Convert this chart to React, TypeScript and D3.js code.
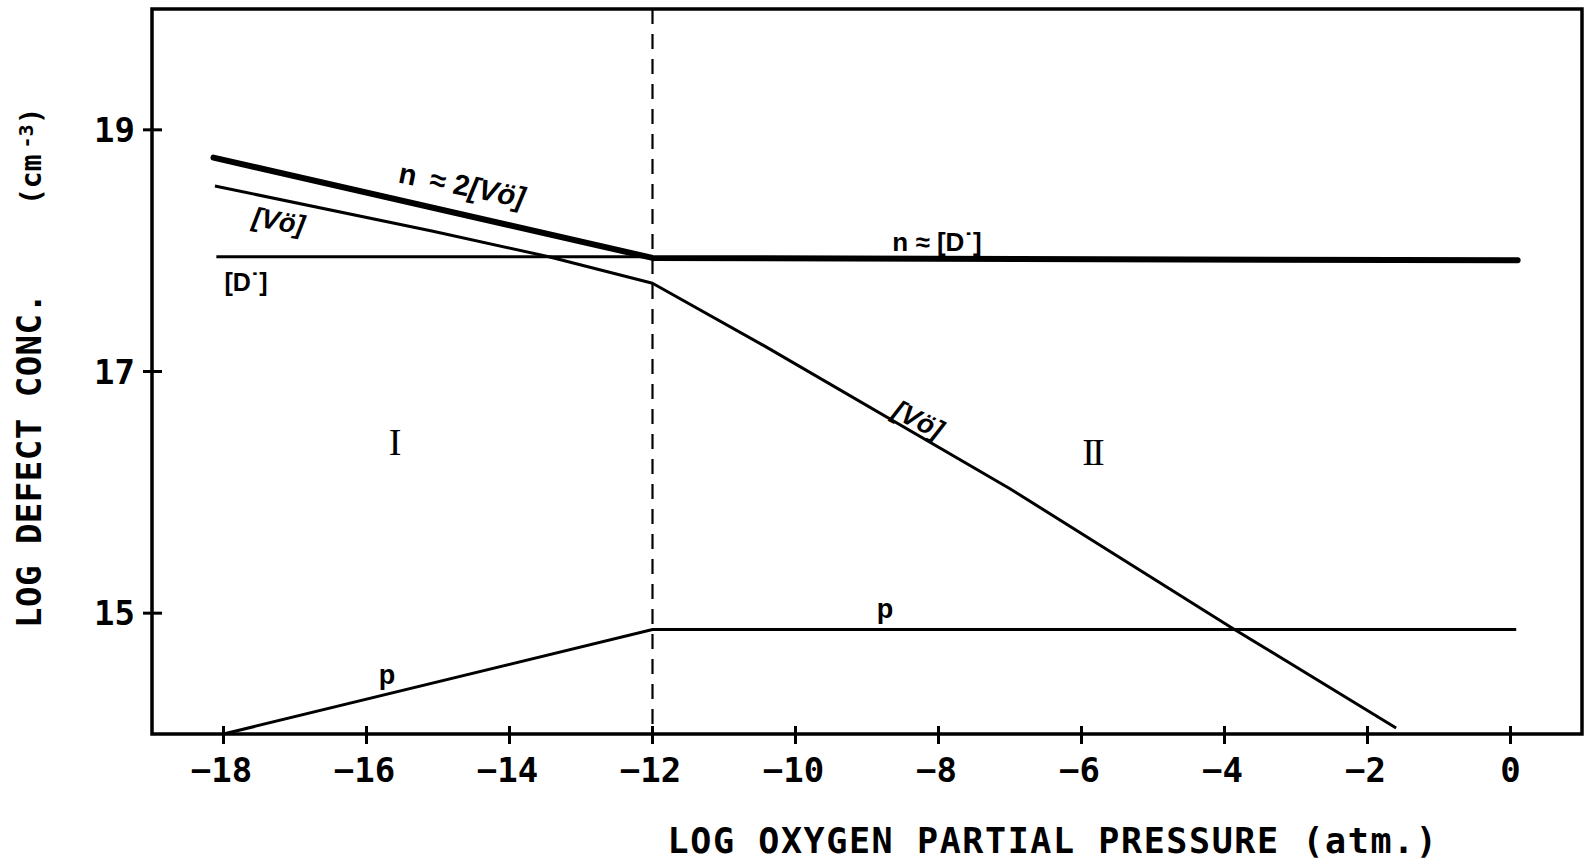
import React from "react";
import * as d3 from "d3";

const xTicks = [-18, -16, -14, -12, -10, -8, -6, -4, -2, 0];
const yTicks = [15, 17, 19];

// n ≈ 2[Vö] then n ≈ [D˙]  (thick)
const nX = [-18.14, -12, 0.1];
const nY = [18.77, 17.94, 17.92];
// [Vö]
const vX = [-18.12, -15.07, -13.45, -12, -10.4, -7, -3.9, -1.6];
const vY = [18.535, 18.16, 17.95, 17.73, 17.2, 16.03, 14.88, 14.05];
// [D˙]
const dX = [-18.1, -12];
const dY = [17.95, 17.95];
// p
const pX = [-18, -12, 0.08];
const pY = [14.0, 14.865, 14.865];

const boundaryX = -12;

const W = 1588;
const H = 863;
const L = 152, R = 1582, T = 9, B = 734;

export default function App() {
  const x = d3.scaleLinear().domain([-19, 1]).range([L, R]);
  const y = d3.scaleLinear().domain([14, 20]).range([B, T]);
  const line = d3
    .line<[number, number]>()
    .x((d) => x(d[0]))
    .y((d) => y(d[1]));
  const pts = (xs: number[], ys: number[]) =>
    xs.map((v, i) => [v, ys[i]] as [number, number]);

  const tickFont = "'DejaVu Sans Mono', monospace";
  const annFont = "'Liberation Sans', Arial, sans-serif";

  return (
    <svg
      width={W}
      height={H}
      style={{ position: "absolute", left: 0, top: 0, background: "#fff" }}
    >
      <rect x={0} y={0} width={W} height={H} fill="#fff" />
      {/* dashed boundary */}
      <line
        x1={x(boundaryX)}
        x2={x(boundaryX)}
        y1={y(20)}
        y2={y(14)}
        stroke="#000"
        strokeWidth={2.2}
        strokeDasharray="15 10"
      />
      {/* data lines */}
      <path d={line(pts(dX, dY)) || ""} fill="none" stroke="#000" strokeWidth={3} />
      <path d={line(pts(vX, vY)) || ""} fill="none" stroke="#000" strokeWidth={3} strokeLinejoin="round" />
      <path d={line(pts(pX, pY)) || ""} fill="none" stroke="#000" strokeWidth={3} />
      <path d={line(pts(nX, nY)) || ""} fill="none" stroke="#000" strokeWidth={6} strokeLinecap="round" strokeLinejoin="round" />

      {/* frame */}
      <rect x={L} y={T} width={R - L} height={B - T} fill="none" stroke="#000" strokeWidth={3.5} />

      {/* x ticks */}
      {xTicks.map((t) => (
        <g key={"x" + t}>
          <line x1={x(t)} x2={x(t)} y1={B - 8} y2={B + 10} stroke="#000" strokeWidth={3} />
          <text
            x={x(t) + (t === 0 ? 0 : -2)}
            y={782}
            textAnchor="middle"
            fontFamily={tickFont}
            fontWeight="bold"
            fontSize={34}
          >
            {t < 0 ? "\u2212" + Math.abs(t) : String(t)}
          </text>
        </g>
      ))}

      {/* y ticks */}
      {yTicks.map((t) => (
        <g key={"y" + t}>
          <line x1={L - 9} x2={L + 10} y1={y(t)} y2={y(t)} stroke="#000" strokeWidth={3} />
          <text
            x={135}
            y={y(t) + 12}
            textAnchor="end"
            fontFamily={tickFont}
            fontWeight="bold"
            fontSize={34}
          >
            {t}
          </text>
        </g>
      ))}

      {/* axis titles */}
      <text
        x={1053}
        y={853}
        textAnchor="middle"
        fontFamily={tickFont}
        fontWeight="bold"
        fontSize={35}
        letterSpacing={1.6}
      >
        LOG OXYGEN PARTIAL PRESSURE (atm.)
      </text>
      <text
        transform="translate(41,628) rotate(-90)"
        textAnchor="start"
        fontFamily={tickFont}
        fontWeight="bold"
        fontSize={34}
        letterSpacing={0.5}
      >
        LOG DEFECT CONC.
      </text>
      <text
        transform="translate(41,205) rotate(-90)"
        textAnchor="start"
        fontFamily={tickFont}
        fontWeight="bold"
        fontSize={28}
      >
        (cm
        <tspan fontSize={20} dy={-8} dx={6}>-3</tspan>
        <tspan dy={8}>)</tspan>
      </text>

      {/* annotations */}
      <text
        transform={`translate(460,195) rotate(11.5)`}
        textAnchor="middle"
        fontFamily={annFont}
        fontWeight="bold"
        fontSize={29}
      >
        <tspan>n</tspan>
        <tspan dx={14}>≈</tspan>
        <tspan dx={8}>2</tspan>
        <tspan fontStyle="italic">[Vö]</tspan>
      </text>
      <text
        transform={`translate(277,230) rotate(10)`}
        textAnchor="middle"
        fontFamily={annFont}
        fontWeight="bold"
        fontStyle="italic"
        fontSize={27}
      >
        [Vö]
      </text>
      <text
        x={246}
        y={291}
        textAnchor="middle"
        fontFamily={annFont}
        fontWeight="bold"
        fontSize={25}
      >
        [D˙]
      </text>
      <text
        x={937}
        y={251}
        textAnchor="middle"
        fontFamily={annFont}
        fontWeight="bold"
        fontSize={26}
      >
        n ≈ [D˙]
      </text>
      <text
        transform={`translate(914,428) rotate(27)`}
        textAnchor="middle"
        fontFamily={annFont}
        fontWeight="bold"
        fontStyle="italic"
        fontSize={27}
      >
        [Vö]
      </text>
      <text x={387} y={684} textAnchor="middle" fontFamily={annFont} fontWeight="bold" fontSize={27}>
        p
      </text>
      <text x={885} y={618} textAnchor="middle" fontFamily={annFont} fontWeight="bold" fontSize={27}>
        p
      </text>

      {/* region labels */}
      <text
        x={395}
        y={455}
        textAnchor="middle"
        fontFamily="'Liberation Serif', 'DejaVu Serif', serif"
        fontSize={38}
      >
        I
      </text>
      <text
        x={1092}
        y={465}
        textAnchor="middle"
        fontFamily="'Liberation Serif', 'DejaVu Serif', serif"
        fontSize={38}
        letterSpacing={-3}
      >
        II
      </text>
    </svg>
  );
}
